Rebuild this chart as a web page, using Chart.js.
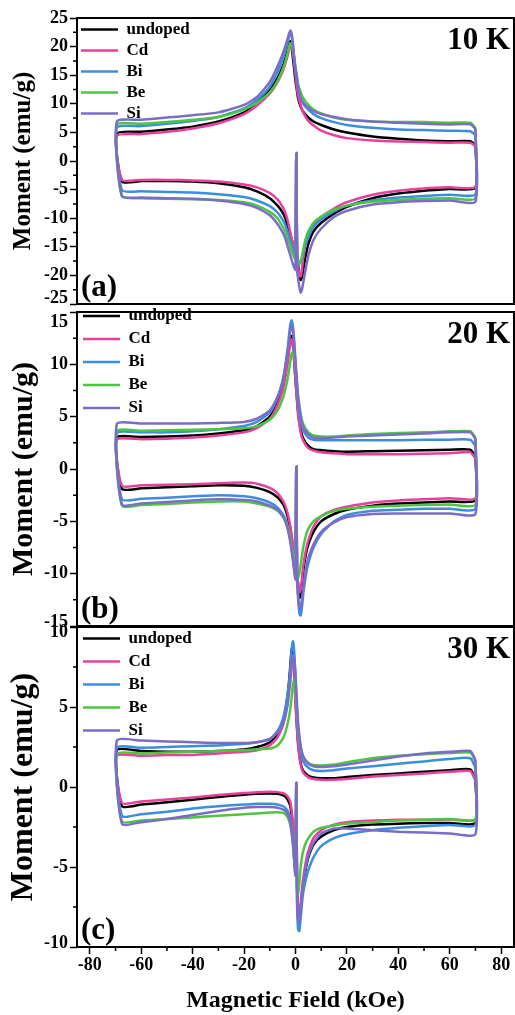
<!DOCTYPE html>
<html>
<head>
<meta charset="utf-8">
<script src="https://cdn.jsdelivr.net/npm/chart.js@4.4.0/dist/chart.umd.min.js"></script>
<style>
  html, body { margin: 0; padding: 0; background: #fff; }
  body { width: 515px; height: 1015px; position: relative; overflow: hidden; }
  .panel { position: absolute; left: 0; width: 515px; }
</style>
</head>
<body>
<div class="panel" style="top:0;height:320px"><canvas id="chartA"></canvas></div>
<div class="panel" style="top:290px;height:350px"><canvas id="chartB"></canvas></div>
<div class="panel" style="top:613px;height:402px"><canvas id="chartC"></canvas></div>
<script>
const SERIF = '"Liberation Serif", "Times New Roman", serif';

// field values (kOe) along the upper branch (70 -> -70) and lower branch (-70 -> 70)
const FIELD_UP = [70, 68, 60, 50, 40, 30, 20, 15, 10, 7, 5, 3, 2, 1, 0.5, 0, -0.5, -1, -1.5, -2, -2.5, -3, -4, -5, -7, -10, -15, -20, -30, -40, -50, -60, -69.5];
const FIELD_LO = [-67.5, -60, -50, -40, -30, -20, -15, -10, -7, -5, -4, -3, -2, -1, 0, 0.3, 0.6, 1, 1.5, 2, 2.5, 3, 4, 5, 7, 10, 15, 20, 30, 40, 50, 60, 70];

const SAMPLES = ['undoped', 'Cd', 'Bi', 'Be', 'Si'];
const COLORS = ['#000000', '#e8409c', '#3c8de0', '#4cc640', '#7c6cc8'];

// 10 K
const UND10_UP = [2.8, 3.45, 3.45, 3.6, 3.9, 4.3, 5.0, 5.5, 6.3, 6.9, 7.6, 8.6, 9.5, 11, 12.5, 14, 16, 18, 20, 20.9, 20.5, 19.5, 17.8, 16.5, 14.5, 12.5, 10.3, 8.5, 6.9, 6.0, 5.5, 5.1, 4.8];
const UND10_LO = [-3.6, -3.5, -3.5, -3.6, -3.9, -4.6, -5.3, -6.5, -7.8, -9.0, -10, -11.5, -13, -14.5, -16, 1.2, -16, -18, -20, -20.8, -20.3, -19, -16.5, -14.5, -12.3, -10.8, -9.2, -8.0, -6.5, -5.7, -5.2, -4.9, -4.7];
const CD10_UP = [2.6, 3.2, 3.2, 3.3, 3.4, 3.6, 4.0, 4.5, 5.3, 6.2, 7.0, 8.5, 9.8, 11.5, 13, 15, 17, 19, 20, 20.2, 19.5, 18.5, 17, 15.7, 13.8, 11.8, 9.7, 8.2, 6.6, 5.7, 5.1, 4.7, 4.4];
const CD10_LO = [-3.3, -3.3, -3.3, -3.4, -3.6, -4.1, -4.6, -5.6, -6.7, -8, -9, -10.5, -12.5, -14.5, -16.5, 1.2, -16.5, -18.5, -20, -20.2, -19, -17, -14.5, -12.8, -11, -9.8, -8.3, -7.2, -5.9, -5.2, -4.8, -4.6, -4.5];
const BI10_UP = [4.5, 5.2, 5.3, 5.4, 5.5, 5.8, 6.3, 6.8, 7.5, 8.2, 9.0, 10, 11, 13, 14.5, 16, 18, 20, 22, 22.5, 21.8, 20.8, 19.3, 17.8, 15.5, 13, 10.7, 9.2, 7.7, 7.0, 6.5, 6.1, 5.8];
const BI10_LO = [-5.1, -5.3, -5.4, -5.5, -5.8, -6.3, -6.9, -7.9, -9, -10.3, -11.2, -12.5, -14, -15.5, -16.5, 1.4, -16.5, -17.3, -17.9, -17.8, -17, -16, -14.5, -13.3, -11.5, -10.2, -8.8, -7.8, -6.9, -6.4, -6.1, -5.9, -5.8];
const BE10_UP = [5.8, 6.7, 6.7, 6.8, 6.8, 6.9, 7.2, 7.6, 8.3, 9.0, 9.8, 11, 12, 13.5, 15, 16.5, 18, 19.5, 20.4, 20.6, 20, 19, 17.3, 16, 14, 12, 10.2, 9.0, 7.7, 7.2, 6.8, 6.5, 6.3];
const BE10_LO = [-6.2, -6.5, -6.6, -6.7, -6.8, -7.2, -7.8, -8.9, -10, -11.5, -12.5, -13.8, -15, -16.3, -17.2, 1.3, -17.2, -17.8, -18, -17.6, -16.8, -15.5, -13.5, -12.3, -10.8, -9.7, -8.5, -7.8, -7.1, -6.8, -6.6, -6.5, -6.5];
const SI10_UP = [5.6, 6.4, 6.4, 6.5, 6.7, 6.9, 7.3, 7.7, 8.2, 8.7, 9.3, 10.2, 11, 13, 14.5, 16, 18, 20.5, 22.2, 22.8, 22.3, 21.5, 20, 18.7, 16.5, 13.8, 11.2, 9.8, 8.5, 8.0, 7.6, 7.2, 6.9];
const SI10_LO = [-6.1, -6.4, -6.5, -6.6, -6.9, -7.5, -8.2, -9.5, -11, -12.5, -13.5, -15, -16.5, -18, -19, 1.4, -19, -20.5, -22, -23, -22.5, -21.3, -18.8, -16.5, -13.8, -11.8, -9.8, -8.7, -7.6, -7.2, -7.0, -6.9, -7.1];

// 20 K
const UND20_UP = [1.2, 1.85, 1.85, 1.8, 1.75, 1.7, 1.65, 1.7, 1.8, 1.9, 2.2, 2.9, 3.8, 5.5, 7.0, 8.5, 10.3, 11.8, 12.7, 12.5, 11.6, 10.6, 9.0, 7.8, 6.3, 5.0, 4.1, 3.7, 3.4, 3.2, 3.1, 3.05, 3.0];
const UND20_LO = [-1.9, -1.85, -1.75, -1.65, -1.55, -1.6, -1.8, -2.2, -2.7, -3.3, -3.8, -4.6, -5.8, -7.5, -9.5, 0.2, -9.5, -11, -12.3, -12.2, -11, -9.8, -8.2, -7.2, -6, -5, -4.3, -3.9, -3.5, -3.3, -3.2, -3.1, -3.0];
const CD20_UP = [1.0, 1.6, 1.5, 1.45, 1.4, 1.4, 1.42, 1.5, 1.6, 1.75, 2.0, 2.7, 3.5, 5.2, 6.8, 8.5, 10.3, 11.8, 12.4, 12.1, 11.2, 10.2, 8.7, 7.5, 6.1, 4.8, 3.9, 3.5, 3.2, 3.0, 2.9, 2.85, 2.8];
const CD20_LO = [-1.6, -1.55, -1.5, -1.45, -1.35, -1.3, -1.4, -1.8, -2.3, -3.0, -3.5, -4.3, -5.5, -7.2, -9.5, 0.2, -9.5, -11, -11.8, -11.5, -10.5, -9.3, -7.8, -6.8, -5.5, -4.5, -3.9, -3.6, -3.2, -3.0, -2.9, -2.8, -2.8];
const BI20_UP = [2.2, 2.8, 2.8, 2.8, 2.75, 2.75, 2.75, 2.75, 2.75, 2.8, 3.0, 3.7, 4.6, 6.3, 8, 10, 12, 13.6, 14.2, 13.8, 12.8, 11.6, 9.8, 8.4, 6.8, 5.4, 4.5, 4.1, 3.8, 3.6, 3.5, 3.5, 3.4];
const BI20_LO = [-2.9, -2.85, -2.75, -2.6, -2.5, -2.6, -2.8, -3.2, -3.7, -4.3, -4.8, -5.6, -6.8, -8.5, -10.5, 0.2, -10.5, -12.3, -13.8, -14, -13.2, -12, -10.2, -9.0, -7.5, -6.2, -5.0, -4.4, -4.0, -3.9, -3.8, -3.8, -3.8];
const BE20_UP = [3.0, 3.6, 3.6, 3.5, 3.45, 3.35, 3.2, 3.1, 3.1, 3.2, 3.5, 4.3, 5.3, 7, 8.6, 10, 10.9, 11.2, 11.0, 10.3, 9.5, 8.7, 7.6, 6.7, 5.6, 4.7, 4.1, 3.9, 3.8, 3.75, 3.7, 3.65, 3.6];
const BE20_LO = [-3.5, -3.45, -3.35, -3.2, -3.1, -3.1, -3.3, -3.6, -4.0, -4.5, -4.9, -5.6, -6.6, -8.2, -9.8, 0.2, -10.2, -10.4, -10, -9.2, -8.3, -7.5, -6.4, -5.7, -5.0, -4.5, -4.0, -3.8, -3.6, -3.5, -3.45, -3.4, -3.4];
const SI20_UP = [2.9, 3.5, 3.5, 3.4, 3.3, 3.2, 3.1, 3.0, 2.95, 3.0, 3.3, 4.0, 5.0, 6.8, 8.5, 10.3, 12.1, 13.3, 13.6, 13.2, 12.3, 11.3, 9.7, 8.4, 6.9, 5.6, 4.8, 4.5, 4.4, 4.35, 4.35, 4.35, 4.3];
const SI20_LO = [-3.4, -3.3, -3.15, -3.0, -2.9, -2.95, -3.1, -3.5, -3.9, -4.5, -5.0, -5.8, -7.0, -8.7, -10.5, 0.25, -10.5, -12, -13.2, -13.3, -12.5, -11.4, -9.7, -8.5, -7.2, -6.0, -5.1, -4.6, -4.3, -4.25, -4.25, -4.25, -4.3];

// 30 K
const UND30_UP = [0.5, 1.1, 1.05, 0.95, 0.85, 0.75, 0.62, 0.55, 0.55, 0.6, 0.7, 1.0, 1.5, 2.8, 4.0, 5.5, 7.3, 8.6, 8.6, 7.6, 6.6, 5.8, 4.7, 4.0, 3.3, 2.8, 2.5, 2.35, 2.25, 2.2, 2.2, 2.25, 2.3];
const UND30_LO = [-1.2, -1.1, -0.95, -0.8, -0.62, -0.48, -0.42, -0.4, -0.42, -0.5, -0.6, -0.8, -1.2, -2.5, -4.5, 0.25, -6, -8.0, -8.3, -7.6, -6.8, -6.1, -5.1, -4.4, -3.6, -3.1, -2.7, -2.5, -2.35, -2.3, -2.25, -2.25, -2.25];
const CD30_UP = [0.4, 1.0, 0.95, 0.85, 0.75, 0.65, 0.5, 0.45, 0.45, 0.5, 0.6, 0.9, 1.4, 2.6, 3.8, 5.2, 6.9, 8.2, 8.2, 7.2, 6.3, 5.5, 4.5, 3.8, 3.1, 2.6, 2.3, 2.2, 2.1, 2.0, 2.0, 1.95, 1.95];
const CD30_LO = [-1.0, -0.9, -0.78, -0.65, -0.5, -0.38, -0.33, -0.3, -0.32, -0.38, -0.45, -0.6, -0.95, -2.2, -4.2, 0.25, -5.8, -7.7, -8.0, -7.3, -6.4, -5.7, -4.7, -4.0, -3.2, -2.7, -2.35, -2.2, -2.1, -2.05, -2.05, -2.03, -2.03];
const BI30_UP = [1.2, 1.8, 1.75, 1.6, 1.45, 1.3, 1.15, 1.05, 1.0, 1.05, 1.2, 1.6, 2.2, 3.5, 5.0, 6.8, 8.5, 9.1, 8.6, 7.3, 6.5, 5.9, 4.9, 4.2, 3.5, 3.0, 2.8, 2.7, 2.6, 2.55, 2.5, 2.45, 2.45];
const BI30_LO = [-1.8, -1.7, -1.55, -1.35, -1.2, -1.1, -1.05, -1.05, -1.1, -1.2, -1.3, -1.5, -2.0, -3.4, -5.5, 0.25, -7, -8.9, -9.0, -8.2, -7.3, -6.6, -5.8, -5.2, -4.4, -3.7, -3.2, -2.95, -2.7, -2.55, -2.45, -2.38, -2.36];
const BE30_UP = [1.6, 2.15, 2.12, 2.05, 1.95, 1.8, 1.55, 1.4, 1.35, 1.38, 1.5, 1.9, 2.5, 3.8, 5.0, 6.2, 6.7, 6.4, 5.6, 4.9, 4.4, 4.0, 3.4, 3.0, 2.6, 2.4, 2.35, 2.3, 2.25, 2.2, 2.15, 2.1, 2.05];
const BE30_LO = [-2.15, -2.1, -2.0, -1.9, -1.8, -1.7, -1.65, -1.6, -1.58, -1.6, -1.7, -1.9, -2.4, -3.6, -5.5, 0.25, -6.5, -6.7, -6.0, -5.0, -4.4, -4.0, -3.5, -3.2, -2.8, -2.55, -2.4, -2.3, -2.2, -2.1, -2.05, -2.0, -2.0];
const SI30_UP = [1.7, 2.25, 2.2, 2.1, 1.9, 1.65, 1.4, 1.3, 1.25, 1.3, 1.45, 1.9, 2.6, 4.0, 5.5, 7.0, 8.0, 8.2, 7.6, 6.6, 5.9, 5.2, 4.4, 3.9, 3.4, 3.0, 2.8, 2.75, 2.75, 2.8, 2.85, 2.9, 2.9];
const SI30_LO = [-2.3, -2.2, -2.0, -1.75, -1.5, -1.3, -1.25, -1.25, -1.3, -1.4, -1.5, -1.7, -2.2, -3.5, -5.5, 0.25, -7, -8.3, -8.4, -7.6, -6.8, -6.0, -5.0, -4.3, -3.5, -2.9, -2.6, -2.6, -2.7, -2.8, -2.85, -2.9, -2.95];

/// Join the two branches into one closed loop
function loop(up, lo) {
    const pts = FIELD_UP.map((x, i) => ({ x: x, y: up[i] }));
    FIELD_LO.forEach((x, i) => pts.push({ x: x, y: lo[i] }));
    pts.push({ x: FIELD_UP[0], y: up[0] });
    return pts;
}

/// Box around the plot, minor ticks, temperature and panel tag
const panelDecor = {
    id: 'panelDecor',
    afterDatasetsDraw(chart, args, opts) {
        const { ctx, chartArea: a, scales } = chart;
        ctx.save();
        ctx.strokeStyle = '#000';
        ctx.lineWidth = 1.5;
        // minor ticks on y
        const ys = scales.y;
        ctx.beginPath();
        for (let v = ys.min + 2.5; v < ys.max; v += 5) {
            const py = ys.getPixelForValue(v);
            ctx.moveTo(a.left - 4, py);
            ctx.lineTo(a.left, py);
        }
        if (opts.xTicks) {
            const xs = scales.x;
            for (let v = -70; v <= 70; v += 20) {
                const px = xs.getPixelForValue(v);
                ctx.moveTo(px, a.bottom);
                ctx.lineTo(px, a.bottom + 4);
            }
        }
        ctx.stroke();
        ctx.lineWidth = 2;
        ctx.strokeRect(a.left, a.top, a.right - a.left, a.bottom - a.top);
        ctx.fillStyle = '#000';
        ctx.font = 'bold 31px ' + SERIF;
        ctx.textBaseline = 'alphabetic';
        ctx.textAlign = 'right';
        ctx.fillText(opts.temp, a.right - 4, a.top + 31);
        ctx.textAlign = 'left';
        ctx.fillText(opts.tag, a.left + 4, a.bottom - 8);
        ctx.restore();
    }
};

function makeChart(id, series, yMax, cfg) {
    const tickFont = { family: SERIF, size: 18, weight: 'bold' };
    // end labels of the y axis are nudged inwards, as in the original figure
    const yLabel = v => {
        if (v === yMax && cfg.shiftTop) return ['', String(v)];
        if (v === -yMax && cfg.shiftBottom) return [String(v), ''];
        return String(v);
    };
    const yFont = c => {
        const v = c.tick ? c.tick.value : 0;
        let lh = 1.2;
        if (v === yMax && cfg.shiftTop) lh = (2 * cfg.shiftTop) + 'px';
        if (v === -yMax && cfg.shiftBottom) lh = (2 * cfg.shiftBottom) + 'px';
        return { family: SERIF, size: 18, weight: 'bold', lineHeight: lh };
    };
    const scales = {
        x: {
            type: 'linear',
            min: -85,
            max: 85,
            display: cfg.showX,
            border: { display: false },
            grid: { drawOnChartArea: false, tickLength: 7, tickColor: '#000', tickWidth: 1.5 },
            ticks: { stepSize: 20, includeBounds: false, autoSkip: false, padding: 1, color: '#000', font: tickFont },
            title: {
                display: true,
                text: 'Magnetic Field (kOe)',
                color: '#000',
                font: { family: SERIF, size: 24, weight: 'bold' },
                padding: { top: 4, bottom: 0 }
            }
        },
        y: {
            min: -yMax,
            max: yMax,
            afterFit: s => { s.width = 77; },
            border: { display: false },
            grid: { drawOnChartArea: false, tickLength: 7, tickColor: '#000', tickWidth: 1.5 },
            ticks: { stepSize: 5, includeBounds: false, autoSkip: false, padding: 2, color: '#000', font: yFont, callback: yLabel },
            title: {
                display: true,
                text: 'Moment (emu/g)',
                color: '#000',
                font: { family: SERIF, size: cfg.titleSize, weight: 'bold' },
                padding: { top: cfg.titlePad, bottom: 0 }
            }
        }
    };
    if (cfg.showX) scales.x.afterFit = s => { s.height = 68; };

    return new Chart(id, {
        type: 'scatter',
        data: {
            datasets: series.map((s, i) => ({
                label: SAMPLES[i],
                data: loop(s[0], s[1]),
                showLine: true,
                borderColor: COLORS[i],
                backgroundColor: COLORS[i],
                borderWidth: 2.5,
                pointRadius: 0,
                tension: 0.2,
                order: 5 - i
            }))
        },
        options: {
            animation: false,
            responsive: true,
            maintainAspectRatio: false,
            layout: { padding: { top: cfg.padTop, bottom: cfg.padBottom, left: 0, right: 1 } },
            plugins: {
                legend: {
                    position: 'chartArea',
                    align: 'start',
                    // empty title only pushes the entries down from the canvas top
                    title: { display: true, text: '', font: { size: 1, lineHeight: 1 }, padding: { top: cfg.legendTop, bottom: 0 } },
                    labels: {
                        usePointStyle: true,
                        pointStyle: 'line',
                        pointStyleWidth: 37,
                        padding: cfg.legendPad,
                        color: '#000',
                        font: { family: SERIF, size: 17, weight: 'bold' },
                        sort: (a, b) => a.datasetIndex - b.datasetIndex
                    }
                },
                tooltip: { enabled: false },
                panelDecor: { temp: cfg.temp, tag: cfg.tag, xTicks: cfg.showX }
            },
            scales: scales
        },
        plugins: [panelDecor]
    });
}

makeChart('chartA', [
    [UND10_UP, UND10_LO], [CD10_UP, CD10_LO], [BI10_UP, BI10_LO], [BE10_UP, BE10_LO], [SI10_UP, SI10_LO]
], 25, { padTop: 18, padBottom: 16, legendTop: 16, legendPad: 4, shiftTop: 0, shiftBottom: 6,
         temp: '10 K', tag: '(a)', showX: false, titleSize: 25, titlePad: 9 });

makeChart('chartB', [
    [UND20_UP, UND20_LO], [CD20_UP, CD20_LO], [BI20_UP, BI20_LO], [BE20_UP, BE20_LO], [SI20_UP, SI20_LO]
], 15, { padTop: 14, padBottom: 14, legendTop: 10.5, legendPad: 6, shiftTop: 10, shiftBottom: 4,
         temp: '20 K', tag: '(b)', showX: false, titleSize: 30, titlePad: 6 });

makeChart('chartC', [
    [UND30_UP, UND30_LO], [CD30_UP, CD30_LO], [BI30_UP, BI30_LO], [BE30_UP, BE30_LO], [SI30_UP, SI30_LO]
], 10, { padTop: 14, padBottom: 0, legendTop: 10, legendPad: 6, shiftTop: 5, shiftBottom: 4,
         temp: '30 K', tag: '(c)', showX: true, titleSize: 32, titlePad: 5 });
</script>
</body>
</html>
